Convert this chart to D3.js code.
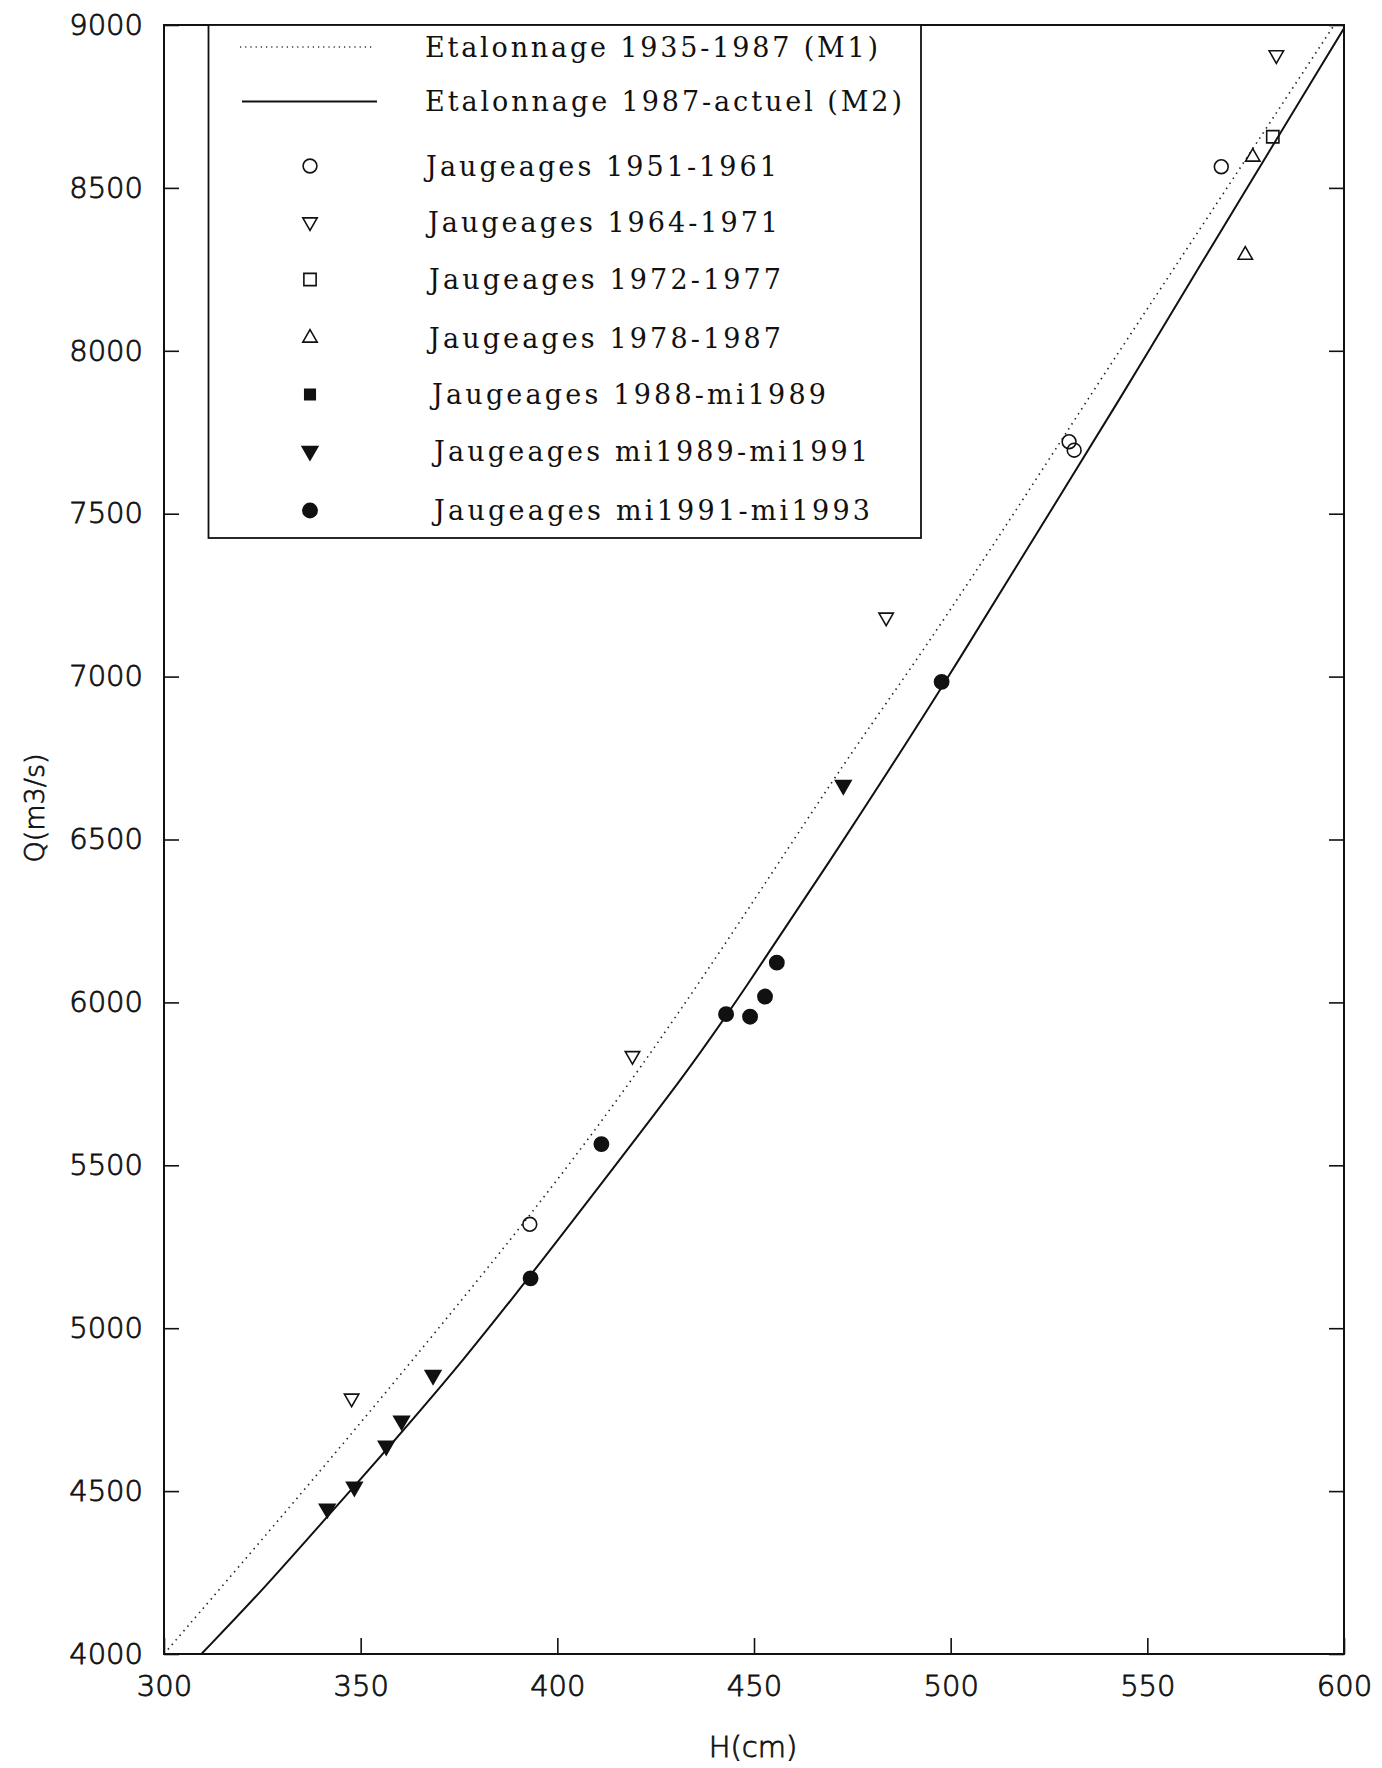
<!DOCTYPE html>
<html>
<head>
<meta charset="utf-8">
<script src="https://cdn.jsdelivr.net/npm/d3@7"></script>
<style>
body { margin: 0; background: #fff; }
.tick text { font-family: "DejaVu Sans", sans-serif; font-weight: 200; }
</style>
</head>
<body>
<div class="chart"></div>
<script>
// axis ticks
var hTicks = [300, 350, 400, 450, 500, 550, 600];
var qTicks = [4000, 4500, 5000, 5500, 6000, 6500, 7000, 7500, 8000, 8500, 9000];

// rating curve M1 (1935-1987)
var m1H = [300, 338, 371, 406, 437, 473, 488, 511, 538, 552, 597.5];
var m1Q = [4000, 4535, 5015, 5540, 6070, 6740, 6990, 7405, 7910, 8165, 9000];

// rating curve M2 (1987-actuel)
var m2H = [309.5, 325, 341, 376, 412.5, 432, 446, 473.5, 498, 515, 546, 558.5, 600];
var m2Q = [4000, 4195, 4415, 4890, 5465, 5770, 6010, 6510, 6970, 7305, 7910, 8165, 8990];

// gaugings, one pair of arrays per period
var j5161H = [393.0, 530.1, 531.4, 568.8];
var j5161Q = [5319, 7721, 7695, 8565];
var j6471H = [347.7, 419.1, 483.6, 582.8];
var j6471Q = [4785, 5836, 7182, 8908];
var j7277H = [581.9];
var j7277Q = [8657];
var j7887H = [576.8, 574.9];
var j7887Q = [8595, 8294];
var j8889H = [];
var j8889Q = [];
var j8991H = [341.5, 348.4, 356.5, 360.4, 368.4, 472.7];
var j8991Q = [4446, 4513, 4639, 4716, 4856, 6667];
var j9193H = [393.2, 411.2, 442.9, 449.0, 452.8, 455.8, 497.7];
var j9193Q = [5153, 5565, 5964, 5956, 6018, 6122, 6984];

var legendLabels = [
  "Etalonnage 1935-1987 (M1)",
  "Etalonnage 1987-actuel (M2)",
  "Jaugeages 1951-1961",
  "Jaugeages 1964-1971",
  "Jaugeages 1972-1977",
  "Jaugeages 1978-1987",
  "Jaugeages 1988-mi1989",
  "Jaugeages mi1989-mi1991",
  "Jaugeages mi1991-mi1993"
];

var svgWidth = 1382;
var svgHeight = 1768;
var margin = {top: 25, right: 38, bottom: 114, left: 164};
var width = svgWidth - margin.left - margin.right;
var height = svgHeight - margin.top - margin.bottom;

var svg = d3.select('.chart')
  .append('svg')
  .attr('width', svgWidth)
  .attr('height', svgHeight)
  .style('background', '#fff');

var chart = svg.append('g')
  .attr('transform', 'translate(' + margin.left + ',' + margin.top + ')');

var x = d3.scaleLinear().domain([300, 600]).range([0, width]);
var y = d3.scaleLinear().domain([4000, 9000]).range([height, 0]);

// axes, ticks pointing inside the frame
var bottomAxis = d3.axisBottom(x).tickValues(hTicks).tickFormat(d3.format('d'))
  .tickSizeInner(-16).tickSizeOuter(0).tickPadding(21);
var leftAxis = d3.axisLeft(y).tickValues(qTicks).tickFormat(d3.format('d'))
  .tickSizeInner(-15).tickSizeOuter(0).tickPadding(21);
var rightAxis = d3.axisRight(y).tickValues(qTicks).tickFormat('')
  .tickSizeInner(-15).tickSizeOuter(0);

function styleAxis(g) {
  g.select('.domain').remove();
  g.selectAll('.tick line').attr('stroke', '#111').attr('stroke-width', 1.6);
  g.selectAll('.tick text')
    .attr('fill', '#111')
    .attr('stroke', '#111')
    .attr('stroke-width', 0.8)
    .style('font-size', '29px');
}

chart.append('g').attr('transform', 'translate(0,' + height + ')').call(bottomAxis).call(styleAxis);
chart.append('g').call(leftAxis).call(styleAxis);
chart.append('g').attr('transform', 'translate(' + width + ',0)').call(rightAxis).call(styleAxis);

// clip curves to the frame
svg.append('defs').append('clipPath').attr('id', 'clip')
  .append('rect').attr('width', width).attr('height', height);

var line = d3.line()
  .x(function(d) { return x(d[0]); })
  .y(function(d) { return y(d[1]); })
  .curve(d3.curveBasis);

var plot = chart.append('g').attr('clip-path', 'url(#clip)');

plot.append('path')
  .datum(d3.zip(m1H, m1Q))
  .attr('d', line)
  .attr('fill', 'none')
  .attr('stroke', '#222')
  .attr('stroke-width', 1.6)
  .attr('stroke-dasharray', '1.5 4.5');

plot.append('path')
  .datum(d3.zip(m2H, m2Q))
  .attr('d', line)
  .attr('fill', 'none')
  .attr('stroke', '#111')
  .attr('stroke-width', 2);

// marker styles
var series = [
  {h: j5161H, q: j5161Q, type: d3.symbolCircle, size: 150, rot: 0, fill: 'none'},
  {h: j6471H, q: j6471Q, type: d3.symbolTriangle, size: 90, rot: 180, fill: 'none'},
  {h: j7277H, q: j7277Q, type: d3.symbolSquare, size: 150, rot: 0, fill: 'none'},
  {h: j7887H, q: j7887Q, type: d3.symbolTriangle, size: 90, rot: 0, fill: 'none'},
  {h: j8889H, q: j8889Q, type: d3.symbolSquare, size: 110, rot: 0, fill: '#111'},
  {h: j8991H, q: j8991Q, type: d3.symbolTriangle, size: 105, rot: 180, fill: '#111'},
  {h: j9193H, q: j9193Q, type: d3.symbolCircle, size: 160, rot: 0, fill: '#111'}
];

series.forEach(function(s) {
  var sym = d3.symbol().type(s.type).size(s.size);
  chart.append('g').selectAll('path')
    .data(d3.zip(s.h, s.q))
    .enter().append('path')
    .attr('d', sym)
    .attr('transform', function(d) {
      return 'translate(' + x(d[0]) + ',' + y(d[1]) + ') rotate(' + s.rot + ')';
    })
    .attr('fill', s.fill)
    .attr('stroke', '#111')
    .attr('stroke-width', 1.6);
});

// frame
chart.append('rect')
  .attr('width', width)
  .attr('height', height)
  .attr('fill', 'none')
  .attr('stroke', '#111')
  .attr('stroke-width', 2);

// legend box
var legend = svg.append('g');
legend.append('rect')
  .attr('x', 208.5).attr('y', 25)
  .attr('width', 712.5).attr('height', 513)
  .attr('fill', '#fff')
  .attr('stroke', '#111')
  .attr('stroke-width', 1.8);

var rowY = [47, 101.5, 166, 222, 279.5, 338, 394.5, 451, 510.5];
var textX = [425, 425, 426, 428, 429, 429, 432, 434, 434];
var textLen = [453, 477, 351, 350, 352, 352, 394, 434, 436];

legend.append('line')
  .attr('x1', 240).attr('x2', 372).attr('y1', rowY[0]).attr('y2', rowY[0])
  .attr('stroke', '#333').attr('stroke-width', 1.4)
  .attr('stroke-dasharray', '1.2 4');
legend.append('line')
  .attr('x1', 242).attr('x2', 377).attr('y1', rowY[1]).attr('y2', rowY[1])
  .attr('stroke', '#111').attr('stroke-width', 2);

series.forEach(function(s, i) {
  var sym = d3.symbol().type(s.type).size(s.size);
  legend.append('path')
    .attr('d', sym)
    .attr('transform', 'translate(310,' + rowY[i + 2] + ') rotate(' + s.rot + ')')
    .attr('fill', s.fill === 'none' ? 'none' : '#111')
    .attr('stroke', '#111')
    .attr('stroke-width', 1.6);
});

legend.selectAll('text.lab')
  .data(legendLabels)
  .enter().append('text')
  .attr('class', 'lab')
  .attr('x', function(d, i) { return textX[i]; })
  .attr('y', function(d, i) { return rowY[i]; })
  .attr('dy', '0.36em')
  .attr('textLength', function(d, i) { return textLen[i]; })
  .attr('lengthAdjust', 'spacing')
  .style('font-family', '"DejaVu Serif", serif')
  .style('font-size', '27px')
  .attr('fill', '#111')
  .text(function(d) { return d; });

// axis titles
svg.append('text')
  .attr('x', 753).attr('y', 1747)
  .attr('dy', '0.36em')
  .attr('text-anchor', 'middle')
  .style('font-family', '"DejaVu Sans", sans-serif')
  .style('font-weight', 200)
  .style('font-size', '29px')
  .attr('fill', '#111')
  .attr('stroke', '#111')
  .attr('stroke-width', 0.8)
  .text('H(cm)');

svg.append('text')
  .attr('transform', 'translate(34,808) rotate(-90)')
  .attr('dy', '0.36em')
  .attr('text-anchor', 'middle')
  .style('font-family', '"DejaVu Sans", sans-serif')
  .style('font-weight', 200)
  .style('font-size', '27px')
  .attr('fill', '#111')
  .attr('stroke', '#111')
  .attr('stroke-width', 0.8)
  .text('Q(m3/s)');
</script>
</body>
</html>
